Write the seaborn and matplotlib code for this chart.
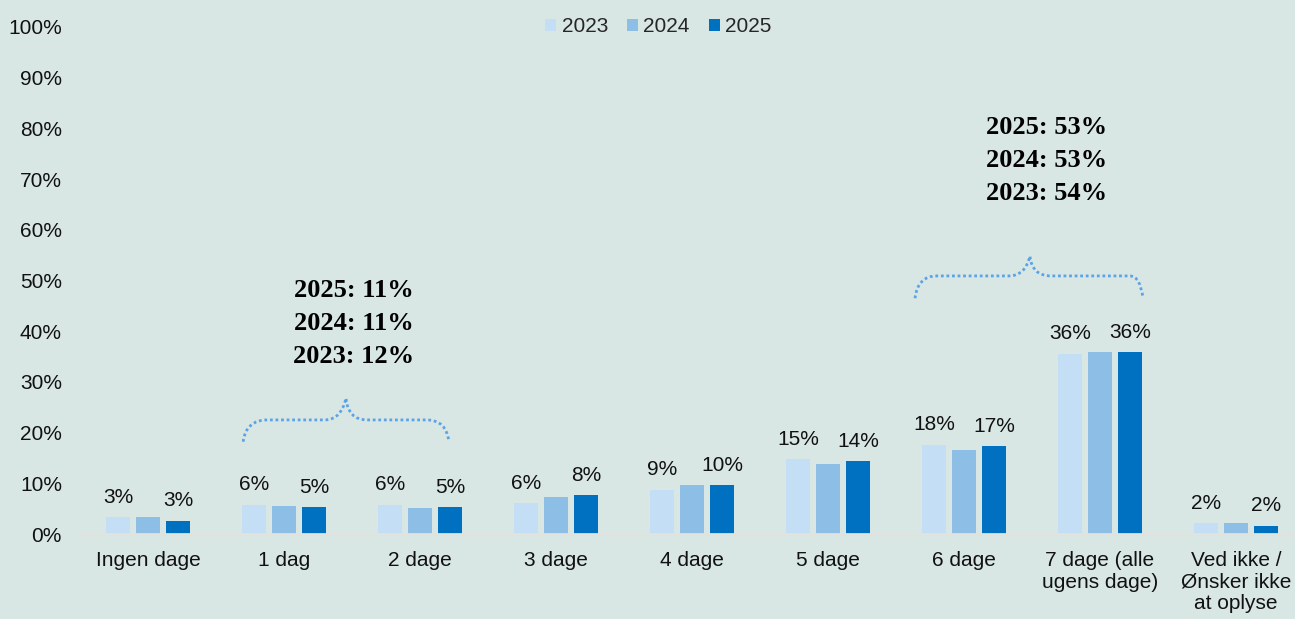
"""
Grouped bar chart: number of days per week, 2023-2025
"""
import numpy as np
import pandas as pd
import matplotlib
matplotlib.use("Agg")
import matplotlib.pyplot as plt
from matplotlib.path import Path
from matplotlib.patches import PathPatch
import seaborn as sns

# data
categories = ["Ingen dage", "1 dag", "2 dage", "3 dage", "4 dage", "5 dage",
              "6 dage", "7 dage (alle\nugens dage)", "Ved ikke /\nØnsker ikke\nat oplyse"]
years = ["2023", "2024", "2025"]
vals_2023 = [3.3, 5.8, 5.8, 6.1, 8.7, 14.7, 17.6, 35.6, 2.1]
vals_2024 = [3.4, 5.6, 5.1, 7.2, 9.6, 13.9, 16.6, 35.9, 2.1]
vals_2025 = [2.6, 5.3, 5.3, 7.6, 9.6, 14.4, 17.3, 35.8, 1.6]

left_group = ["2025: 11%", "2024: 11%", "2023: 12%"]
right_group = ["2025: 53%", "2024: 53%", "2023: 54%"]

colors = ["#c4dff5", "#8cbee6", "#0070c0"]
bg = "#d9e7e4"

df = pd.DataFrame({
    "kategori": categories * 3,
    "aar": np.repeat(years, len(categories)),
    "andel": vals_2023 + vals_2024 + vals_2025,
})

sns.set_theme(style="white")
plt.rcParams["font.family"] = ["Liberation Sans", "DejaVu Sans"]

fig = plt.figure(figsize=(12.95, 6.19), dpi=100, facecolor=bg)
ax = fig.add_axes([80 / 1295, 85 / 619, 1215 / 1295, 507 / 619])
ax.set_facecolor(bg)

sns.barplot(data=df, x="kategori", y="andel", hue="aar", palette=colors,
            width=0.66, gap=0.2, ax=ax, saturation=1, linewidth=0)

# value labels only for 2023 and 2025
for cont, vals in [(ax.containers[0], vals_2023), (ax.containers[2], vals_2025)]:
    ax.bar_label(cont, labels=[f"{v:.0f}%" for v in vals], padding=7.5, fontsize=15, color="#111111")

ax.set_ylim(0, 100)
ax.set_xlim(-0.5, 8.434)
ax.set_yticks(range(0, 101, 10))
ax.set_yticklabels([f"{t}%" for t in range(0, 101, 10)])
ax.tick_params(axis="y", length=0, pad=13, labelsize=15, labelcolor="#111111")
ax.tick_params(axis="x", length=0, pad=12.5, labelsize=15, labelcolor="#111111")
for lab in ax.get_xticklabels():
    lab.set_linespacing(1.15)
    lab.set_verticalalignment("top")
ax.set_xlabel("")
ax.set_ylabel("")
for s in ["top", "right", "left"]:
    ax.spines[s].set_visible(False)
ax.spines["bottom"].set_color("#e2e2de")
ax.spines["bottom"].set_linewidth(2)

# legend at top centre
sns.move_legend(ax, "center", bbox_to_anchor=(0.476, 1.0), ncol=3, frameon=False,
                title=None, fontsize=15, handlelength=0.55, handleheight=0.55,
                handletextpad=0.25, columnspacing=0.9)


# dotted curly braces
def brace(x0, x1, xm, xf0, xf1, xm_l, xm_r, y_end, y_flat, y_tip):
    verts = [(x0, y_end), (x0 + 0.02, y_flat), (xf0, y_flat),
             (xm_l, y_flat),
             (xm_l + 0.12, y_flat), (xm, y_tip),
             (xm + 0.015, y_flat), (xm_r, y_flat),
             (xf1, y_flat),
             (x1 - 0.02, y_flat), (x1, y_end)]
    codes = [Path.MOVETO, Path.CURVE3, Path.CURVE3, Path.LINETO,
             Path.CURVE3, Path.CURVE3, Path.CURVE3, Path.CURVE3,
             Path.LINETO, Path.CURVE3, Path.CURVE3]
    ax.add_patch(PathPatch(Path(verts, codes), fill=False, edgecolor="#5ba3e6",
                           linewidth=2.0, linestyle=(0, (1, 1)), capstyle="butt"))


brace(0.70, 2.213, 1.456, 0.88, 2.05, 1.30, 1.61, 18.2, 22.5, 26.8)
brace(5.64, 7.316, 6.485, 5.80, 7.22, 6.33, 6.64, 46.5, 50.9, 54.8)

# group totals
for labels, x, ys in [(left_group, 1.515, [48.1, 41.6, 35.1]),
                      (right_group, 6.61, [80.1, 73.6, 67.1])]:
    for txt, y in zip(labels, ys):
        ax.text(x, y, txt, ha="center", va="center", fontsize=19,
                fontweight="bold", family=["Liberation Serif", "DejaVu Serif"], color="#000000")

fig.savefig("out.png", dpi=100, facecolor=bg)
